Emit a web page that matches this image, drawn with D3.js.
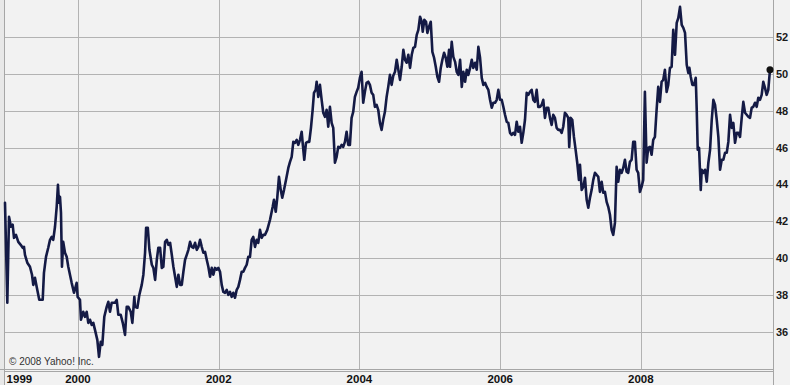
<!DOCTYPE html>
<html><head><meta charset="utf-8">
<script src="https://cdn.jsdelivr.net/npm/d3@7"></script>
<style>html,body{margin:0;padding:0;background:#f2f2f2;}svg{display:block;}</style>
</head><body>
<svg id="chart" width="790" height="385"></svg>
<script>
// decimal years of each sample
const years = [1998.963,1998.996,1999.020,1999.048,1999.072,1999.091,1999.119,1999.152,1999.186,1999.215,1999.233,1999.247,1999.280,1999.318,1999.347,1999.365,1999.389,1999.414,1999.450,1999.499,1999.517,1999.546,1999.578,1999.603,1999.627,1999.649,1999.674,1999.698,1999.716,1999.730,1999.745,1999.759,1999.773,1999.791,1999.816,1999.840,1999.863,1999.887,1999.911,1999.944,1999.982,1999.996,2000.029,2000.043,2000.075,2000.100,2000.124,2000.147,2000.171,2000.195,2000.218,2000.242,2000.275,2000.299,2000.323,2000.346,2000.374,2000.408,2000.431,2000.455,2000.479,2000.526,2000.550,2000.573,2000.607,2000.636,2000.668,2000.692,2000.715,2000.749,2000.772,2000.800,2000.810,2000.843,2000.871,2000.905,2000.928,2000.952,2000.967,2000.991,2001.014,2001.048,2001.070,2001.095,2001.119,2001.141,2001.166,2001.190,2001.212,2001.237,2001.261,2001.284,2001.308,2001.332,2001.355,2001.379,2001.403,2001.426,2001.450,2001.474,2001.497,2001.521,2001.545,2001.568,2001.592,2001.616,2001.639,2001.663,2001.687,2001.710,2001.734,2001.758,2001.781,2001.805,2001.829,2001.852,2001.876,2001.900,2001.923,2001.947,2001.971,2001.994,2002.018,2002.042,2002.065,2002.089,2002.113,2002.136,2002.160,2002.184,2002.207,2002.231,2002.255,2002.278,2002.302,2002.326,2002.349,2002.373,2002.397,2002.420,2002.444,2002.468,2002.491,2002.515,2002.539,2002.562,2002.586,2002.610,2002.633,2002.657,2002.690,2002.729,2002.767,2002.785,2002.810,2002.832,2002.856,2002.881,2002.903,2002.928,2002.956,2002.989,2003.013,2003.037,2003.060,2003.084,2003.108,2003.131,2003.155,2003.179,2003.193,2003.216,2003.240,2003.264,2003.287,2003.311,2003.335,2003.354,2003.378,2003.392,2003.415,2003.439,2003.463,2003.486,2003.510,2003.534,2003.557,2003.581,2003.605,2003.628,2003.652,2003.676,2003.699,2003.723,2003.747,2003.770,2003.794,2003.818,2003.841,2003.865,2003.889,2003.912,2003.936,2003.960,2003.983,2004.007,2004.031,2004.054,2004.078,2004.102,2004.125,2004.149,2004.173,2004.196,2004.220,2004.244,2004.267,2004.291,2004.315,2004.338,2004.362,2004.386,2004.409,2004.433,2004.457,2004.480,2004.505,2004.529,2004.552,2004.576,2004.600,2004.623,2004.647,2004.671,2004.694,2004.718,2004.742,2004.765,2004.789,2004.813,2004.836,2004.860,2004.884,2004.898,2004.921,2004.945,2004.964,2004.988,2005.012,2005.035,2005.059,2005.083,2005.106,2005.130,2005.154,2005.177,2005.201,2005.225,2005.248,2005.272,2005.286,2005.310,2005.333,2005.358,2005.381,2005.405,2005.429,2005.453,2005.475,2005.500,2005.524,2005.546,2005.571,2005.595,2005.617,2005.642,2005.666,2005.689,2005.713,2005.737,2005.760,2005.784,2005.808,2005.831,2005.855,2005.879,2005.902,2005.926,2005.950,2005.973,2005.997,2006.021,2006.044,2006.068,2006.092,2006.115,2006.139,2006.163,2006.186,2006.210,2006.234,2006.257,2006.281,2006.305,2006.328,2006.352,2006.376,2006.399,2006.423,2006.447,2006.470,2006.494,2006.518,2006.541,2006.565,2006.589,2006.612,2006.636,2006.660,2006.683,2006.707,2006.731,2006.754,2006.778,2006.802,2006.825,2006.849,2006.873,2006.896,2006.920,2006.944,2006.967,2006.981,2007.001,2007.024,2007.048,2007.072,2007.095,2007.119,2007.134,2007.158,2007.181,2007.205,2007.229,2007.252,2007.276,2007.300,2007.323,2007.347,2007.371,2007.394,2007.418,2007.442,2007.465,2007.489,2007.513,2007.536,2007.560,2007.584,2007.607,2007.631,2007.655,2007.678,2007.702,2007.726,2007.749,2007.773,2007.797,2007.820,2007.844,2007.868,2007.891,2007.915,2007.939,2007.962,2007.986,2008.010,2008.033,2008.057,2008.081,2008.104,2008.128,2008.152,2008.175,2008.199,2008.223,2008.246,2008.270,2008.294,2008.317,2008.341,2008.365,2008.388,2008.412,2008.436,2008.459,2008.484,2008.508,2008.531,2008.555,2008.579,2008.602,2008.626,2008.650,2008.673,2008.688,2008.707,2008.730,2008.754,2008.778,2008.792,2008.806,2008.825,2008.849,2008.863,2008.886,2008.910,2008.934,2008.957,2008.981,2009.005,2009.028,2009.052,2009.076,2009.099,2009.123,2009.147,2009.170,2009.194,2009.218,2009.241,2009.265,2009.289,2009.312,2009.336,2009.360,2009.383,2009.407,2009.431,2009.454,2009.478,2009.502,2009.525,2009.549,2009.573,2009.596,2009.620,2009.644,2009.667,2009.691,2009.715,2009.738,2009.762,2009.786,2009.809,2009.833];
// price values
const prices = [43.01,37.59,42.25,41.71,41.82,41.11,41.27,40.89,40.73,40.57,40.62,40.19,39.76,39.54,39.11,38.56,38.94,38.45,37.75,37.75,39.21,40.08,40.57,41.00,41.16,41.00,41.71,42.79,43.98,43.01,43.33,42.47,39.54,40.89,40.30,40.08,39.54,39.11,38.67,38.13,38.67,37.91,37.75,36.67,37.10,36.83,37.10,36.50,36.67,36.39,36.50,36.12,35.58,34.66,35.47,35.31,36.83,37.37,37.64,37.10,37.59,37.59,37.75,36.94,36.94,36.50,35.85,37.37,37.37,37.10,36.50,37.91,37.37,37.32,38.02,38.56,39.11,40.30,41.65,41.65,40.46,39.65,39.48,38.83,39.92,40.57,40.57,39.48,39.54,40.89,41.00,40.73,40.84,40.19,39.54,39.00,38.45,39.11,38.56,38.56,39.27,39.92,40.19,40.46,40.89,40.62,40.57,40.84,40.46,40.62,41.00,40.62,40.30,40.35,39.92,39.54,39.00,39.48,39.11,39.48,39.38,39.48,39.27,38.56,38.18,38.13,38.29,38.02,38.18,37.91,38.13,37.86,38.29,38.45,38.83,39.27,39.27,39.48,39.65,40.08,40.08,41.00,41.16,40.62,41.00,40.84,41.54,41.11,41.27,41.27,41.54,42.09,42.79,43.17,42.52,43.28,44.42,43.71,43.28,43.71,44.25,44.90,45.23,45.50,46.31,46.26,46.42,46.15,46.42,46.86,46.26,45.34,46.26,46.31,46.31,47.07,48.05,48.97,49.13,49.57,48.75,49.40,48.59,47.89,47.67,48.05,47.13,48.21,47.34,47.07,45.18,45.50,46.04,45.99,46.15,46.04,46.31,46.86,46.15,46.15,47.61,47.94,48.75,49.02,49.24,49.78,50.11,48.43,49.02,49.51,49.57,49.40,48.97,48.86,48.21,48.32,48.05,47.34,46.96,47.51,47.94,48.75,49.29,49.94,49.40,49.89,50.11,50.76,50.22,49.67,50.38,51.30,50.76,50.60,51.03,50.32,51.03,51.41,51.46,52.11,52.38,53.09,52.82,52.28,52.93,52.82,52.22,52.55,52.82,51.19,50.87,50.38,49.84,49.57,50.32,50.76,51.14,50.87,50.38,51.30,50.38,51.73,50.92,50.65,50.11,49.94,50.76,49.29,50.11,49.57,50.22,49.94,50.32,50.76,50.32,50.60,50.22,51.46,50.87,49.78,49.40,49.51,49.29,49.13,48.59,48.16,48.43,48.43,48.59,49.13,48.59,48.59,48.21,47.78,47.40,47.34,46.80,46.69,46.80,46.69,47.40,46.86,47.13,46.26,46.80,47.51,48.97,48.86,49.02,49.13,48.59,48.48,49.13,48.21,48.21,48.32,48.59,47.61,48.16,48.16,47.61,47.23,47.78,47.61,47.07,46.96,46.96,46.80,47.13,47.89,47.78,47.61,46.04,47.61,47.51,46.58,45.88,45.18,44.25,45.07,43.71,43.87,44.36,43.17,42.74,43.28,43.71,44.25,44.63,44.52,44.42,43.60,44.15,43.55,43.60,43.06,42.79,42.36,41.54,41.27,41.92,44.96,44.15,44.80,44.63,44.90,45.34,44.69,44.63,45.23,45.34,46.31,46.31,44.80,44.63,43.60,43.87,44.25,49.02,45.18,45.99,46.04,45.61,46.42,46.58,48.05,49.29,48.48,49.57,49.67,50.22,49.02,49.40,50.32,50.38,52.38,51.03,52.76,53.03,53.63,52.65,52.49,52.22,50.49,50.05,50.32,49.84,49.40,49.40,49.78,48.05,45.88,45.99,43.71,44.80,44.63,44.80,44.15,45.18,45.88,47.51,48.59,48.32,47.51,46.58,44.80,45.34,45.34,45.72,45.72,46.31,47.78,47.07,47.34,46.26,46.80,46.80,46.58,47.61,48.48,47.89,47.78,47.67,47.61,48.16,48.21,48.43,48.21,48.70,48.59,48.86,49.57,49.24,48.86,49.13,50.22];
const yTicks = [36,38,40,42,44,46,48,50,52];
const xTickYears = [2000,2002,2004,2006,2008];
const xTickLabels = ["2000","2002","2004","2006","2008"];
const firstYearLabel = "1999";
const copyright = "\u00A9 2008 Yahoo! Inc.";

function decToDate(y){
  const yr = Math.floor(y);
  const s = Date.UTC(yr,0,1), e = Date.UTC(yr+1,0,1);
  return new Date(s + (y-yr)*(e-s));
}

const svg = d3.select("#chart");
const W = 790, H = 385;
const L = 5, R = 773, T = 0, B = 369;

const x = d3.scaleUtc().domain([decToDate(1998.963), decToDate(2009.876)]).range([L, R]);
const y = d3.scaleLinear().domain([34, 54]).range([B, T]);

svg.append("rect").attr("x",0).attr("y",0).attr("width",W).attr("height",H).attr("fill","#f2f2f2");
svg.append("rect").attr("x",0).attr("y",0).attr("width",L).attr("height",H).attr("fill","#e8e8e8");

const grid = svg.append("g").attr("stroke","#b3b3b3").attr("stroke-width",1).attr("shape-rendering","crispEdges");
yTicks.forEach(v=>{
  grid.append("line").attr("x1",L).attr("x2",R).attr("y1",Math.round(y(v))+0.5).attr("y2",Math.round(y(v))+0.5);
});
xTickYears.forEach(v=>{
  const px = Math.round(x(decToDate(v)))+0.5;
  grid.append("line").attr("x1",px).attr("x2",px).attr("y1",T).attr("y2",B);
});

// frame lines
const frame = svg.append("g").attr("stroke","#a6a6a6").attr("stroke-width",1).attr("shape-rendering","crispEdges");
frame.append("line").attr("x1",L-0.5).attr("x2",L-0.5).attr("y1",0).attr("y2",H);
frame.append("line").attr("x1",0).attr("x2",R).attr("y1",B+0.5).attr("y2",B+0.5);
frame.append("line").attr("x1",L).attr("x2",R).attr("y1",B+2.5).attr("y2",B+2.5);
frame.append("line").attr("x1",R+0.5).attr("x2",R+0.5).attr("y1",0).attr("y2",H);

// copyright
svg.append("text").attr("x",9).attr("y",365).text(copyright)
  .attr("font-family","'Liberation Sans', Arial, sans-serif").attr("font-size","10px").attr("fill","#333");

// price line
const data = years.map((t,i)=>({d:decToDate(t), v:prices[i]}));
const line = d3.line().x(d=>x(d.d)).y(d=>y(d.v));
svg.append("path").datum(data).attr("d",line).attr("fill","none")
  .attr("stroke","#141a45").attr("stroke-width",2.6).attr("stroke-linejoin","round").attr("stroke-linecap","round");
const last = data[data.length-1];
svg.append("circle").attr("cx",x(last.d)).attr("cy",y(last.v)).attr("r",3.5).attr("fill","#111");

// y axis labels (right)
const yl = svg.append("g").attr("font-family","'Liberation Sans', Arial, sans-serif").attr("font-size","11px").attr("font-weight","bold").attr("fill","#1a1a1a");
yTicks.forEach(v=>{
  yl.append("text").attr("x",R+3).attr("y",y(v)).attr("dy","0.36em").text(v);
});

// x axis labels
const xl = svg.append("g").attr("font-family","'Liberation Sans', Arial, sans-serif").attr("font-size","11.5px").attr("font-weight","bold").attr("fill","#111");
xTickYears.forEach((v,i)=>{
  xl.append("text").attr("x",x(decToDate(v))).attr("y",383).attr("text-anchor","middle").text(xTickLabels[i]);
});
xl.append("text").attr("x",x(decToDate(1999))-1).attr("y",383).attr("text-anchor","start").text(firstYearLabel);
</script>
</body></html>
